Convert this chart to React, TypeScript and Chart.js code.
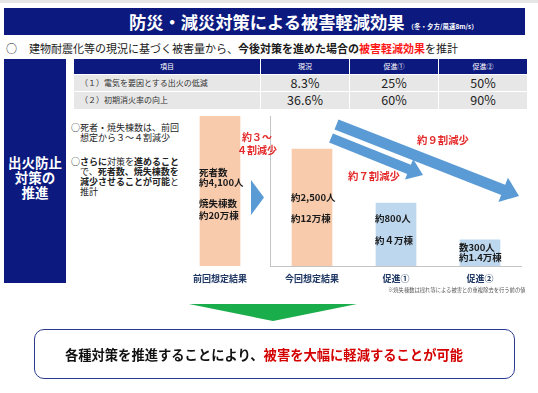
import React, { useEffect, useRef } from 'react';
import { Chart, registerables } from 'chart.js';

Chart.register(...registerables);

const FONT = '"Noto Sans CJK JP", "Noto Sans", sans-serif';

// ---- table data ----
const tableHeaders = ['項目', '現況', '促進①', '促進②'];
const tableItems = ['（１）電気を要因とする出火の低減', '（２）初期消火率の向上'];
const currentRates = ['8.3%', '36.6%'];
const promotion1Rates = ['25%', '60%'];
const promotion2Rates = ['50%', '90%'];

// ---- bar data (schematic bar heights, 前回 = 100) ----
const barCategories = ['前回想定結果', '今回想定結果', '促進①', '促進②'];
const barHeights = [100, 78, 42, 17.5];
const deathTexts = ['約4,100人', '約2,500人', '約800人', '数300人'];
const buildingTexts = ['約20万棟', '約12万棟', '約４万棟', '約1.4万棟'];
const reductionTexts = ['約３～\n４割減少', '約７割減少', '約９割減少'];

const PEACH = '#f8cbad';
const LIGHTBLUE = '#bdd7ee';
const ARROW = '#5b9bd5';
const NAVY = '#0c1a80';
const RED = '#e42a2a';

const barColors = [PEACH, PEACH, LIGHTBLUE, LIGHTBLUE];

// text lines drawn inside each bar
const barLines: string[][] = [
  ['死者数', deathTexts[0], '焼失棟数', buildingTexts[0]],
  [deathTexts[1], buildingTexts[1]],
  [deathTexts[2], buildingTexts[2]],
  [deathTexts[3], buildingTexts[3]],
];
// vertical offsets of those lines from the bar top (style)
const lineOffsets = [
  [56, 66, 87, 99],
  [48, 69],
  [15, 37],
  [8, 18],
];

function barTextPlugin(start: number) {
  return {
    id: 'barText' + start,
    afterDatasetsDraw(chart: any) {
      const ctx = chart.ctx;
      const meta = chart.getDatasetMeta(0);
      meta.data.forEach((el: any, i: number) => {
        const idx = start + i;
        const left = el.x - el.width / 2 - 1;
        ctx.save();
        ctx.font = `bold 9.5px ${FONT}`;
        ctx.fillStyle = '#1a1a1a';
        ctx.textBaseline = 'middle';
        ctx.textAlign = 'left';
        barLines[idx].forEach((t, j) => ctx.fillText(t, left, el.y + lineOffsets[idx][j]));
        ctx.restore();
      });
    },
  };
}

function makeConfig(start: number, end: number, showAxes: boolean): any {
  return {
    type: 'bar',
    data: {
      labels: barCategories.slice(start, end),
      datasets: [
        {
          data: barHeights.slice(start, end),
          backgroundColor: barColors.slice(start, end),
          barThickness: 40,
          borderWidth: 0,
        },
      ],
    },
    options: {
      animation: false,
      responsive: false,
      maintainAspectRatio: false,
      layout: { padding: 0 },
      plugins: { legend: { display: false }, tooltip: { enabled: false } },
      scales: {
        x: {
          grid: { display: false, drawTicks: false },
          border: { display: showAxes, color: '#c4c4c4', width: 1, z: 1 },
          ticks: {
            font: { family: FONT, size: 9, weight: 'bold' },
            color: '#1f3864',
            padding: 7,
            maxRotation: 0,
            autoSkip: false,
          },
          afterFit: (s: any) => {
            s.height = 24;
          },
        },
        y: {
          display: showAxes,
          min: 0,
          max: 100,
          grid: { display: false, drawTicks: false },
          ticks: { display: false },
          border: { display: showAxes, color: '#c4c4c4', width: 1, z: 1 },
          afterFit: (s: any) => {
            s.width = 0;
          },
        },
      },
    },
    plugins: [barTextPlugin(start)],
  };
}

function arrowPoints(x0: number, y0: number, x1: number, y1: number, w: number, h: number, hw: number) {
  const dx = x1 - x0;
  const dy = y1 - y0;
  const len = Math.hypot(dx, dy);
  const ux = dx / len;
  const uy = dy / len;
  const px = -uy;
  const py = ux;
  const bx = x1 - ux * h;
  const by = y1 - uy * h;
  const pts = [
    [x0 + px * w, y0 + py * w],
    [bx + px * w, by + py * w],
    [bx + px * hw, by + py * hw],
    [x1, y1],
    [bx - px * hw, by - py * hw],
    [bx - px * w, by - py * w],
    [x0 - px * w, y0 - py * w],
  ];
  return pts.map((p) => p.map((v) => v.toFixed(1)).join(',')).join(' ');
}

const colEdges = [74, 260, 349, 438, 527];

export default function App() {
  const refA = useRef<HTMLCanvasElement>(null);
  const refB = useRef<HTMLCanvasElement>(null);

  useEffect(() => {
    const a = new Chart(refA.current as HTMLCanvasElement, makeConfig(0, 1, false));
    const b = new Chart(refB.current as HTMLCanvasElement, makeConfig(1, 4, true));
    return () => {
      a.destroy();
      b.destroy();
    };
  }, []);

  const abs = (s: React.CSSProperties): React.CSSProperties => ({ position: 'absolute', ...s });

  const rows = [
    { top: 59, h: 15, header: true, cells: tableHeaders },
    { top: 75, h: 16, header: false, cells: [tableItems[0], currentRates[0], promotion1Rates[0], promotion2Rates[0]] },
    { top: 92, h: 16.5, header: false, cells: [tableItems[1], currentRates[1], promotion1Rates[1], promotion2Rates[1]] },
  ];

  return (
    <div
      style={abs({
        left: 0,
        top: 0,
        width: 538,
        height: 393,
        background: '#ffffff',
        fontFamily: FONT,
        overflow: 'hidden',
        color: '#111',
      })}
    >
      <div style={abs({ left: 0, top: 0, width: 538, height: 3, background: '#e6e6e6' })} />

      {/* title bar */}
      <div style={abs({ left: 4, top: 8, width: 521, height: 27, background: NAVY })} />
      <div
        style={abs({
          left: 129,
          top: 11,
          height: 22,
          lineHeight: '22px',
          whiteSpace: 'nowrap',
          color: '#fff',
          fontWeight: 700,
          fontSize: 17.25,
        })}
      >
        防災・減災対策による被害軽減効果
        <span style={{ fontSize: 6.5, marginLeft: 3, fontWeight: 700 }}>（冬・夕方/風速8m/s）</span>
      </div>

      {/* subtitle */}
      <div style={abs({ left: 6, top: 41, fontSize: 11, lineHeight: '14px', whiteSpace: 'nowrap' })}>○</div>
      <div style={abs({ left: 29, top: 41, fontSize: 11, lineHeight: '14px', whiteSpace: 'nowrap', color: '#1a1a1a' })}>
        建物耐震化等の現況に基づく被害量から、
        <b>今後対策を進めた場合の</b>
        <b style={{ color: '#ff1a1a' }}>被害軽減効果</b>を推計
      </div>

      {/* left navy block */}
      <div style={abs({ left: 4, top: 59, width: 62, height: 224, background: NAVY })} />
      <div
        style={abs({
          left: 4,
          top: 155,
          width: 62,
          textAlign: 'center',
          color: '#fff',
          fontWeight: 700,
          fontSize: 13.5,
          lineHeight: '15px',
        })}
      >
        出火防止
        <br />
        対策の
        <br />
        推進
      </div>

      {/* table */}
      {rows.map((r, ri) =>
        r.cells.map((c, ci) => {
          const left = colEdges[ci] + (ci > 0 ? 1 : 0);
          const width = colEdges[ci + 1] - left;
          const isLabel = !r.header && ci === 0;
          return (
            <div
              key={ri + '-' + ci}
              style={abs({
                left,
                top: r.top,
                width,
                height: r.h,
                lineHeight: r.h + 'px',
                background: r.header ? NAVY : '#e7e7e7',
                color: r.header ? '#fff' : isLabel ? '#333' : '#222',
                fontSize: r.header ? 7 : isLabel ? 8 : 12.5,
                textAlign: isLabel ? 'left' : 'center',
                paddingLeft: isLabel ? 6 : 0,
                boxSizing: 'border-box',
                whiteSpace: 'nowrap',
              })}
            >
              {c}
            </div>
          );
        })
      )}

      {/* left explanatory text */}
      <div
        style={abs({
          left: 71,
          top: 122.5,
          width: 125,
          fontSize: 9,
          lineHeight: '10.5px',
          paddingLeft: 9,
          textIndent: -9,
          color: '#222',
          whiteSpace: 'nowrap',
        })}
      >
        ○死者・焼失棟数は、前回
        <br />
        想定から３～４割減少
      </div>
      <div
        style={abs({
          left: 71,
          top: 156.5,
          width: 125,
          fontSize: 9,
          lineHeight: '10px',
          paddingLeft: 9,
          textIndent: -9,
          color: '#222',
          whiteSpace: 'nowrap',
        })}
      >
        ○<b>さらに</b>対策を<b>進めること</b>
        <br />
        で、<b>死者数、焼失棟数を</b>
        <br />
        <b>減少させることが可能</b>と
        <br />
        推計
      </div>

      {/* charts */}
      <canvas ref={refA} width={60} height={174} style={abs({ left: 190, top: 116, width: 60, height: 174 })} />
      <canvas ref={refB} width={252} height={174} style={abs({ left: 270, top: 116, width: 252, height: 174 })} />

      {/* arrows and triangles */}
      <svg width={538} height={393} style={abs({ left: 0, top: 0, pointerEvents: 'none' })}>
        <polygon points="251,180 264,197.5 251,215" fill={ARROW} />
        <polygon points={arrowPoints(331, 138, 423, 175, 5, 15, 11)} fill={ARROW} />
        <polygon points={arrowPoints(336.5, 124.5, 519, 196, 5.5, 17, 13)} fill={ARROW} />
        <polygon points="189,304 357,304 273,321" fill="#1aad4b" />
      </svg>

      {/* reduction labels */}
      <div
        style={abs({
          left: 232,
          top: 130,
          width: 50,
          textAlign: 'center',
          color: RED,
          fontWeight: 700,
          fontSize: 10,
          lineHeight: '13px',
          whiteSpace: 'pre-line',
        })}
      >
        {reductionTexts[0]}
      </div>
      <div style={abs({ left: 348, top: 169, color: RED, fontWeight: 700, fontSize: 10.4, lineHeight: '14px', whiteSpace: 'nowrap' })}>
        {reductionTexts[1]}
      </div>
      <div style={abs({ left: 417, top: 133, color: RED, fontWeight: 700, fontSize: 10.4, lineHeight: '14px', whiteSpace: 'nowrap' })}>
        {reductionTexts[2]}
      </div>

      {/* footnote */}
      <div style={abs({ left: 388, top: 287, fontSize: 5.3, lineHeight: '7px', color: '#555', whiteSpace: 'nowrap' })}>
        ※焼失棟数は揺れ等による被害との重複除去を行う前の値
      </div>

      {/* bottom conclusion box */}
      <div
        style={abs({
          left: 34,
          top: 329,
          width: 481,
          height: 50,
          border: '1.5px solid #2d3b8e',
          borderRadius: 10,
          boxSizing: 'border-box',
        })}
      />
      <div
        style={abs({
          left: 0,
          top: 345,
          width: 528,
          textAlign: 'center',
          fontSize: 13.3,
          lineHeight: '20px',
          fontWeight: 700,
          whiteSpace: 'nowrap',
          color: '#111',
        })}
      >
        各種対策を推進することにより、<span style={{ color: '#d40000' }}>被害を大幅に軽減することが可能</span>
      </div>
    </div>
  );
}
